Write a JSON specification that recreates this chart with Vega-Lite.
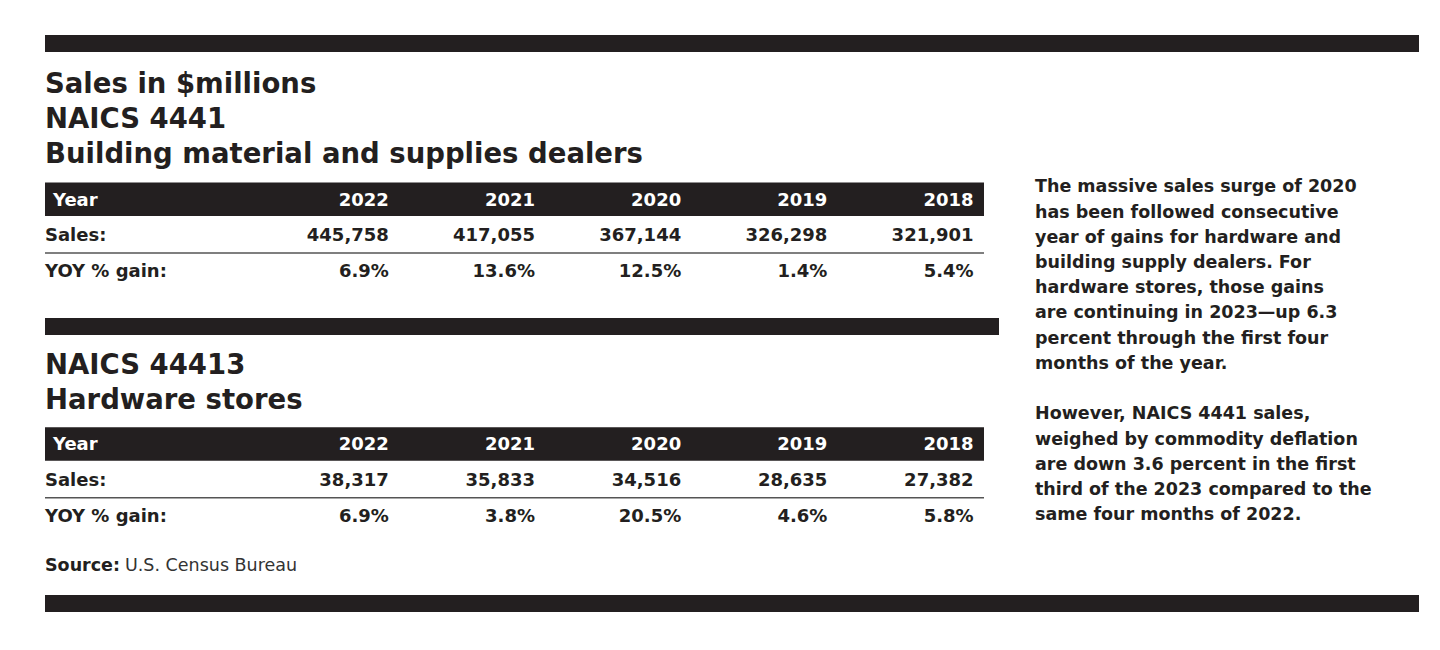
{
  "$schema": "https://vega.github.io/schema/vega-lite/v6.json",
  "background": "#ffffff",
  "padding": {"left": 44, "top": 35, "right": 0, "bottom": 0},
  "spacing": 0,
  "config": {"view": {"stroke": null}, "font": "DejaVu Sans", "text": {"font": "DejaVu Sans"}},
  "datasets": {
    "naics": [
      {"code": "4441", "year": "2022", "sales": 445758, "yoy": 0.069},
      {"code": "4441", "year": "2021", "sales": 417055, "yoy": 0.136},
      {"code": "4441", "year": "2020", "sales": 367144, "yoy": 0.125},
      {"code": "4441", "year": "2019", "sales": 326298, "yoy": 0.014},
      {"code": "4441", "year": "2018", "sales": 321901, "yoy": 0.054},
      {"code": "44413", "year": "2022", "sales": 38317, "yoy": 0.069},
      {"code": "44413", "year": "2021", "sales": 35833, "yoy": 0.038},
      {"code": "44413", "year": "2020", "sales": 34516, "yoy": 0.205},
      {"code": "44413", "year": "2019", "sales": 28635, "yoy": 0.046},
      {"code": "44413", "year": "2018", "sales": 27382, "yoy": 0.058}
    ],
    "titles": [
      {"block": "4441", "line": "Sales in $millions"},
      {"block": "4441", "line": "NAICS 4441"},
      {"block": "4441", "line": "Building material and supplies dealers"},
      {"block": "44413", "line": "NAICS 44413"},
      {"block": "44413", "line": "Hardware stores"}
    ],
    "rowLabels": [{"row": "Year"}, {"row": "Sales:"}, {"row": "YOY % gain:"}],
    "source": [{"part": "Source:"}, {"part": "U.S. Census Bureau"}],
    "notes": [
      {"para": 1, "text": "The massive sales surge of 2020\nhas been followed consecutive\nyear of gains for hardware and\nbuilding supply dealers. For\nhardware stores, those gains\nare continuing in 2023\u2014up 6.3\npercent through the first four\nmonths of the year."},
      {"para": 2, "text": "However, NAICS 4441 sales,\nweighed by commodity deflation\nare down 3.6 percent in the first\nthird of the 2023 compared to the\nsame four months of 2022."}
    ]
  },
  "vconcat": [
    {
      "width": 1374, "height": 17,
      "data": {"name": "source"},
      "transform": [{"aggregate": [{"op": "count", "as": "n"}]}],
      "mark": {"type": "rect", "color": "#231f20"},
      "encoding": {}
    },
    {
      "hconcat": [
        {
          "vconcat": [
            {
              "width": 954, "height": 123,
              "data": {"name": "titles"},
              "transform": [{"filter": "datum.block === '4441'"}],
              "mark": {"type": "text", "align": "left", "baseline": "middle", "fontSize": 27.5, "fontWeight": "bold", "color": "#231f20"},
              "encoding": {
                "x": {"datum": "title", "type": "nominal", "scale": {"type": "band", "paddingInner": 0, "paddingOuter": 0, "round": false}, "bandPosition": 0, "axis": null},
                "y": {"field": "line", "type": "nominal", "sort": null, "scale": {"type": "band", "paddingInner": 0, "paddingOuter": 0.257, "align": 0.878, "round": false}, "bandPosition": 0.5, "axis": null},
                "text": {"field": "line"}
              }
            },
            {
              "width": 939, "height": 143,
              "layer": [
                {
                  "data": {"name": "rowLabels"},
                  "transform": [{"filter": "datum.row === 'Year'"}],
                  "mark": {"type": "rect", "color": "#231f20"},
                  "encoding": {"y": {"field": "row", "type": "nominal", "scale": {"type": "band", "domain": ["Year", "Sales:", "YOY % gain:"], "paddingInner": 0.059, "paddingOuter": 0.538, "align": 0.196, "round": false}, "axis": null}}
                },
                {
                  "data": {"name": "rowLabels"},
                  "transform": [{"filter": "datum.row === 'Sales:'"}],
                  "mark": {"type": "rule", "color": "#555555", "strokeWidth": 1.5},
                  "encoding": {"y": {"field": "row", "type": "nominal", "scale": {"type": "band", "domain": ["Year", "Sales:", "YOY % gain:"], "paddingInner": 0.059, "paddingOuter": 0.538, "align": 0.196, "round": false}, "axis": null, "bandPosition": 1.04}}
                },
                {
                  "data": {"name": "rowLabels"},
                  "transform": [{"filter": "datum.row === 'Year'"}],
                  "mark": {"type": "text", "align": "left", "baseline": "middle", "fontSize": 18, "fontWeight": "bold", "color": "#ffffff"},
                  "encoding": {
                    "x": {"datum": "label", "type": "nominal", "scale": {"type": "band", "domain": ["label", "gap", "2022", "2021", "2020", "2019", "2018"], "paddingInner": 0.6484, "paddingOuter": 0.0356, "align": 0, "round": false}, "axis": null, "bandPosition": 0.156},
                    "y": {"field": "row", "type": "nominal", "scale": {"type": "band", "domain": ["Year", "Sales:", "YOY % gain:"], "paddingInner": 0.059, "paddingOuter": 0.538, "align": 0.196, "round": false}, "axis": null, "bandPosition": 0.54},
                    "text": {"field": "row"}
                  }
                },
                {
                  "data": {"name": "rowLabels"},
                  "transform": [{"filter": "datum.row !== 'Year'"}],
                  "mark": {"type": "text", "align": "left", "baseline": "middle", "fontSize": 18, "fontWeight": "bold", "color": "#231f20"},
                  "encoding": {
                    "x": {"datum": "label", "type": "nominal", "scale": {"type": "band", "domain": ["label", "gap", "2022", "2021", "2020", "2019", "2018"], "paddingInner": 0.6484, "paddingOuter": 0.0356, "align": 0, "round": false}, "axis": null, "bandPosition": 0},
                    "y": {"field": "row", "type": "nominal", "scale": {"type": "band", "domain": ["Year", "Sales:", "YOY % gain:"], "paddingInner": 0.059, "paddingOuter": 0.538, "align": 0.196, "round": false}, "axis": null, "bandPosition": 0.54},
                    "text": {"field": "row"}
                  }
                },
                {
                  "data": {"name": "naics"},
                  "transform": [{"filter": "datum.code === '4441'"}],
                  "mark": {"type": "text", "align": "right", "baseline": "middle", "fontSize": 18, "fontWeight": "bold", "color": "#ffffff"},
                  "encoding": {
                    "x": {"field": "year", "type": "nominal", "scale": {"type": "band", "domain": ["label", "gap", "2022", "2021", "2020", "2019", "2018"], "paddingInner": 0.6484, "paddingOuter": 0.0356, "align": 0, "round": false}, "axis": null, "bandPosition": 1},
                    "y": {"datum": "Year", "type": "nominal", "scale": {"type": "band", "domain": ["Year", "Sales:", "YOY % gain:"], "paddingInner": 0.059, "paddingOuter": 0.538, "align": 0.196, "round": false}, "axis": null, "bandPosition": 0.54},
                    "text": {"field": "year"}
                  }
                },
                {
                  "data": {"name": "naics"},
                  "transform": [{"filter": "datum.code === '4441'"}],
                  "mark": {"type": "text", "align": "right", "baseline": "middle", "fontSize": 18, "fontWeight": "bold", "color": "#231f20"},
                  "encoding": {
                    "x": {"field": "year", "type": "nominal", "scale": {"type": "band", "domain": ["label", "gap", "2022", "2021", "2020", "2019", "2018"], "paddingInner": 0.6484, "paddingOuter": 0.0356, "align": 0, "round": false}, "axis": null, "bandPosition": 1},
                    "y": {"datum": "Sales:", "type": "nominal", "scale": {"type": "band", "domain": ["Year", "Sales:", "YOY % gain:"], "paddingInner": 0.059, "paddingOuter": 0.538, "align": 0.196, "round": false}, "axis": null, "bandPosition": 0.54},
                    "text": {"field": "sales", "type": "quantitative", "format": ","}
                  }
                },
                {
                  "data": {"name": "naics"},
                  "transform": [{"filter": "datum.code === '4441'"}],
                  "mark": {"type": "text", "align": "right", "baseline": "middle", "fontSize": 18, "fontWeight": "bold", "color": "#231f20"},
                  "encoding": {
                    "x": {"field": "year", "type": "nominal", "scale": {"type": "band", "domain": ["label", "gap", "2022", "2021", "2020", "2019", "2018"], "paddingInner": 0.6484, "paddingOuter": 0.0356, "align": 0, "round": false}, "axis": null, "bandPosition": 1},
                    "y": {"datum": "YOY % gain:", "type": "nominal", "scale": {"type": "band", "domain": ["Year", "Sales:", "YOY % gain:"], "paddingInner": 0.059, "paddingOuter": 0.538, "align": 0.196, "round": false}, "axis": null, "bandPosition": 0.54},
                    "text": {"field": "yoy", "type": "quantitative", "format": ".1%"}
                  }
                }
              ]
            },
            {
              "width": 954, "height": 17,
              "data": {"name": "source"},
              "transform": [{"aggregate": [{"op": "count", "as": "n"}]}],
              "mark": {"type": "rect", "color": "#231f20"},
              "encoding": {}
            },
            {
              "width": 954, "height": 91,
              "data": {"name": "titles"},
              "transform": [{"filter": "datum.block === '44413'"}],
              "mark": {"type": "text", "align": "left", "baseline": "middle", "fontSize": 27.5, "fontWeight": "bold", "color": "#231f20"},
              "encoding": {
                "x": {"datum": "title", "type": "nominal", "scale": {"type": "band", "paddingInner": 0, "paddingOuter": 0, "round": false}, "bandPosition": 0, "axis": null},
                "y": {"field": "line", "type": "nominal", "sort": null, "scale": {"type": "band", "paddingInner": 0, "paddingOuter": 0.3, "align": 0.643, "round": false}, "bandPosition": 0.5, "axis": null},
                "text": {"field": "line"}
              }
            },
            {
              "width": 939, "height": 114,
              "layer": [
                {
                  "data": {"name": "rowLabels"},
                  "transform": [{"filter": "datum.row === 'Year'"}],
                  "mark": {"type": "rect", "color": "#231f20"},
                  "encoding": {"y": {"field": "row", "type": "nominal", "scale": {"type": "band", "domain": ["Year", "Sales:", "YOY % gain:"], "paddingInner": 0.059, "paddingOuter": 0.1306, "align": 0.14, "round": false}, "axis": null}}
                },
                {
                  "data": {"name": "rowLabels"},
                  "transform": [{"filter": "datum.row === 'Sales:'"}],
                  "mark": {"type": "rule", "color": "#555555", "strokeWidth": 1.5},
                  "encoding": {"y": {"field": "row", "type": "nominal", "scale": {"type": "band", "domain": ["Year", "Sales:", "YOY % gain:"], "paddingInner": 0.059, "paddingOuter": 0.1306, "align": 0.14, "round": false}, "axis": null, "bandPosition": 1.04}}
                },
                {
                  "data": {"name": "rowLabels"},
                  "transform": [{"filter": "datum.row === 'Year'"}],
                  "mark": {"type": "text", "align": "left", "baseline": "middle", "fontSize": 18, "fontWeight": "bold", "color": "#ffffff"},
                  "encoding": {
                    "x": {"datum": "label", "type": "nominal", "scale": {"type": "band", "domain": ["label", "gap", "2022", "2021", "2020", "2019", "2018"], "paddingInner": 0.6484, "paddingOuter": 0.0356, "align": 0, "round": false}, "axis": null, "bandPosition": 0.156},
                    "y": {"field": "row", "type": "nominal", "scale": {"type": "band", "domain": ["Year", "Sales:", "YOY % gain:"], "paddingInner": 0.059, "paddingOuter": 0.1306, "align": 0.14, "round": false}, "axis": null, "bandPosition": 0.54},
                    "text": {"field": "row"}
                  }
                },
                {
                  "data": {"name": "rowLabels"},
                  "transform": [{"filter": "datum.row !== 'Year'"}],
                  "mark": {"type": "text", "align": "left", "baseline": "middle", "fontSize": 18, "fontWeight": "bold", "color": "#231f20"},
                  "encoding": {
                    "x": {"datum": "label", "type": "nominal", "scale": {"type": "band", "domain": ["label", "gap", "2022", "2021", "2020", "2019", "2018"], "paddingInner": 0.6484, "paddingOuter": 0.0356, "align": 0, "round": false}, "axis": null, "bandPosition": 0},
                    "y": {"field": "row", "type": "nominal", "scale": {"type": "band", "domain": ["Year", "Sales:", "YOY % gain:"], "paddingInner": 0.059, "paddingOuter": 0.1306, "align": 0.14, "round": false}, "axis": null, "bandPosition": 0.54},
                    "text": {"field": "row"}
                  }
                },
                {
                  "data": {"name": "naics"},
                  "transform": [{"filter": "datum.code === '44413'"}],
                  "mark": {"type": "text", "align": "right", "baseline": "middle", "fontSize": 18, "fontWeight": "bold", "color": "#ffffff"},
                  "encoding": {
                    "x": {"field": "year", "type": "nominal", "scale": {"type": "band", "domain": ["label", "gap", "2022", "2021", "2020", "2019", "2018"], "paddingInner": 0.6484, "paddingOuter": 0.0356, "align": 0, "round": false}, "axis": null, "bandPosition": 1},
                    "y": {"datum": "Year", "type": "nominal", "scale": {"type": "band", "domain": ["Year", "Sales:", "YOY % gain:"], "paddingInner": 0.059, "paddingOuter": 0.1306, "align": 0.14, "round": false}, "axis": null, "bandPosition": 0.54},
                    "text": {"field": "year"}
                  }
                },
                {
                  "data": {"name": "naics"},
                  "transform": [{"filter": "datum.code === '44413'"}],
                  "mark": {"type": "text", "align": "right", "baseline": "middle", "fontSize": 18, "fontWeight": "bold", "color": "#231f20"},
                  "encoding": {
                    "x": {"field": "year", "type": "nominal", "scale": {"type": "band", "domain": ["label", "gap", "2022", "2021", "2020", "2019", "2018"], "paddingInner": 0.6484, "paddingOuter": 0.0356, "align": 0, "round": false}, "axis": null, "bandPosition": 1},
                    "y": {"datum": "Sales:", "type": "nominal", "scale": {"type": "band", "domain": ["Year", "Sales:", "YOY % gain:"], "paddingInner": 0.059, "paddingOuter": 0.1306, "align": 0.14, "round": false}, "axis": null, "bandPosition": 0.54},
                    "text": {"field": "sales", "type": "quantitative", "format": ","}
                  }
                },
                {
                  "data": {"name": "naics"},
                  "transform": [{"filter": "datum.code === '44413'"}],
                  "mark": {"type": "text", "align": "right", "baseline": "middle", "fontSize": 18, "fontWeight": "bold", "color": "#231f20"},
                  "encoding": {
                    "x": {"field": "year", "type": "nominal", "scale": {"type": "band", "domain": ["label", "gap", "2022", "2021", "2020", "2019", "2018"], "paddingInner": 0.6484, "paddingOuter": 0.0356, "align": 0, "round": false}, "axis": null, "bandPosition": 1},
                    "y": {"datum": "YOY % gain:", "type": "nominal", "scale": {"type": "band", "domain": ["Year", "Sales:", "YOY % gain:"], "paddingInner": 0.059, "paddingOuter": 0.1306, "align": 0.14, "round": false}, "axis": null, "bandPosition": 0.54},
                    "text": {"field": "yoy", "type": "quantitative", "format": ".1%"}
                  }
                }
              ]
            },
            {
              "width": 160, "height": 51,
              "data": {"name": "source"},
              "layer": [
                {
                  "transform": [{"filter": "datum.part === 'Source:'"}],
                  "mark": {"type": "text", "align": "left", "baseline": "middle", "fontSize": 17.5, "fontWeight": "bold", "color": "#231f20"},
                  "encoding": {
                    "x": {"field": "part", "type": "nominal", "scale": {"type": "band", "domain": ["Source:", "U.S. Census Bureau"], "paddingInner": 0, "paddingOuter": 0, "round": false}, "bandPosition": 0, "axis": null},
                    "text": {"field": "part"}
                  }
                },
                {
                  "transform": [{"filter": "datum.part !== 'Source:'"}],
                  "mark": {"type": "text", "align": "left", "baseline": "middle", "fontSize": 17.5, "fontWeight": "normal", "color": "#333333"},
                  "encoding": {
                    "x": {"field": "part", "type": "nominal", "scale": {"type": "band", "domain": ["Source:", "U.S. Census Bureau"], "paddingInner": 0, "paddingOuter": 0, "round": false}, "bandPosition": 0, "axis": null},
                    "text": {"field": "part"}
                  }
                }
              ]
            }
          ],
          "spacing": 0
        },
        {
          "width": 384, "height": 543,
          "data": {"name": "notes"},
          "mark": {"type": "text", "align": "left", "baseline": "top", "fontSize": 17.5, "fontWeight": "bold", "lineBreak": "\n", "lineHeight": 25.2, "color": "#231f20"},
          "encoding": {
            "x": {"datum": "notes", "type": "nominal", "scale": {"type": "band", "paddingInner": 0, "paddingOuter": 0, "round": false}, "bandPosition": 0, "axis": null},
            "y": {"field": "para", "type": "ordinal", "scale": {"type": "point", "padding": 0.696, "align": 0.4, "round": false}, "axis": null},
            "text": {"field": "text"}
          }
        }
      ],
      "spacing": 36
    },
    {
      "width": 1374, "height": 17,
      "data": {"name": "source"},
      "transform": [{"aggregate": [{"op": "count", "as": "n"}]}],
      "mark": {"type": "rect", "color": "#231f20"},
      "encoding": {}
    }
  ]
}
